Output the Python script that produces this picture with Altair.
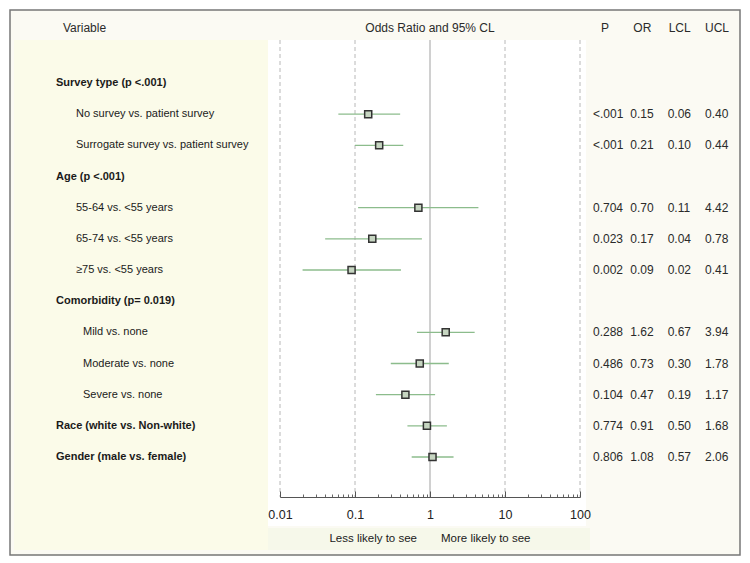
import altair as alt
import pandas as pd

# ---------------- data ----------------
labels = [
    "Survey type (p <.001)",
    "No survey vs. patient survey",
    "Surrogate survey vs. patient survey",
    "Age (p <.001)",
    "55-64 vs. <55 years",
    "65-74 vs. <55 years",
    "≥75 vs. <55 years",
    "Comorbidity (p= 0.019)",
    "Mild vs. none",
    "Moderate vs. none",
    "Severe vs. none",
    "Race (white vs. Non-white)",
    "Gender (male vs. female)",
]
levels = [0, 1, 1, 0, 1, 1, 1, 0, 2, 2, 2, 0, 0]
p_values = [None, "<.001", "<.001", None, "0.704", "0.023", "0.002", None,
            "0.288", "0.486", "0.104", "0.774", "0.806"]
odds_ratio = [None, 0.15, 0.21, None, 0.70, 0.17, 0.09, None, 1.62, 0.73, 0.47, 0.91, 1.08]
lower_cl = [None, 0.06, 0.10, None, 0.11, 0.04, 0.02, None, 0.67, 0.30, 0.19, 0.50, 0.57]
upper_cl = [None, 0.40, 0.44, None, 4.42, 0.78, 0.41, None, 3.94, 1.78, 1.17, 1.68, 2.06]
columns = ["P", "OR", "LCL", "UCL"]
major_ticks = [0.01, 0.1, 1, 10, 100]
minor_ticks = [k * 10.0 ** e for e in (-2, -1, 0, 1) for k in range(2, 10)]
ref_lines = [0.01, 0.1, 10, 100]
captions = ["Less likely to see", "More likely to see"]

FONT = "Liberation Sans"

df = pd.DataFrame({
    "row": list(range(len(labels))),
    "label": labels,
    "level": levels,
    "p": p_values,
    "odds": odds_ratio,
    "lcl": lower_cl,
    "ucl": upper_cl,
})
forest = df.dropna(subset=["odds"])

recs = []
for r, p, o, l, u in zip(df["row"], p_values, odds_ratio, lower_cl, upper_cl):
    if o is None:
        continue
    for c, t in zip(columns, [p, f"{o:.2f}", f"{l:.2f}", f"{u:.2f}"]):
        recs.append({"row": r, "col": c, "text": t})
table = pd.DataFrame(recs)

one = pd.DataFrame({"a": [0]})

# ---------------- scales ----------------
xlog = alt.Scale(type="log", domain=[0.01, 100], range=[270, 570], nice=False)
ys = alt.Scale(domain=[0, 12], range=[73, 447], nice=False, zero=False)
xlev = alt.Scale(domain=[0, 1, 2], range=[46, 66, 73], nice=False, zero=False)
xcol = alt.Scale(type="point", domain=columns, range=[583, 695], padding=0)

Y = alt.Y("row:Q", scale=ys, axis=None)


def panel(x1, x2, y1, y2, color):
    return alt.Chart(one).mark_rect(color=color).encode(
        x=alt.X(datum=x1, scale=xlog, axis=None),
        x2=alt.X2(datum=x2),
        y=alt.Y(datum=y1, scale=ys, axis=None),
        y2=alt.Y2(datum=y2),
    )


left_panel = panel(2.84e-6, 0.00692, -1.38, 14.98, "#fbfbe9")
white_panel = panel(0.00692, 120, -1.38, 14.21, "#ffffff")
band_panel = panel(0.00692, 136, 14.28, 14.98, "#f6f8ea")

grid = alt.Chart(pd.DataFrame({"v": ref_lines})).mark_rule(
    color="#b8b8b8", strokeDash=[4, 3], strokeWidth=1
).encode(
    x=alt.X("v:Q", scale=xlog, axis=alt.Axis(
        orient="top", values=minor_ticks, labels=False, ticks=True, tickSize=3,
        tickColor="#666", domain=False, grid=False, offset=-487, title=None, zindex=2)),
    y=alt.Y(datum=-1.38, scale=ys, axis=None),
    y2=alt.Y2(datum=13.28),
)

null_line = alt.Chart(pd.DataFrame({"v": [1]})).mark_rule(
    color="#c0c0c0", strokeWidth=1.5
).encode(
    x=alt.X("v:Q", scale=xlog, axis=None),
    y=alt.Y(datum=-1.38, scale=ys, axis=None),
    y2=alt.Y2(datum=13.28),
)

ci = alt.Chart(forest).mark_rule(color="#8cbc8c", strokeWidth=1.3).encode(
    x=alt.X("lcl:Q", scale=xlog, axis=alt.Axis(
        orient="bottom", values=major_ticks, format="~g", ticks=False, domain=False,
        grid=False, offset=-58, labelPadding=11, labelFontSize=12.5, labelFont=FONT,
        labelColor="#222", labelFlush=False, labelOverlap=False, title=None, zindex=2)),
    x2="ucl:Q",
    y=Y,
)

squares = alt.Chart(forest).mark_square(
    size=50, fill="#c6d5c1", stroke="#333333", strokeWidth=1.5, opacity=1
).encode(
    x=alt.X("odds:Q", scale=xlog, axis=alt.Axis(
        orient="top", values=major_ticks, labels=False, ticks=True, tickSize=6,
        tickColor="#555", domain=True, domainColor="#555", grid=False,
        offset=-487, title=None, zindex=2)),
    y=Y,
)

group_text = alt.Chart(df).transform_filter("datum.level == 0").mark_text(
    align="left", baseline="middle", font=FONT, fontSize=11, fontWeight="bold", color="#1a1a1a"
).encode(x=alt.X("level:Q", scale=xlev, axis=None), y=Y, text="label:N")

item_text = alt.Chart(df).transform_filter("datum.level >= 1").mark_text(
    align="left", baseline="middle", font=FONT, fontSize=11, color="#1a1a1a"
).encode(x=alt.X("level:Q", scale=xlev, axis=None), y=Y, text="label:N")

table_text = alt.Chart(table).mark_text(
    align="left", baseline="middle", font=FONT, fontSize=12, color="#2a2a2a"
).encode(x=alt.X("col:N", scale=xcol, axis=None), y=Y, text="text:N")

col_head = alt.Chart(pd.DataFrame({"col": columns})).mark_text(
    align="center", baseline="middle", dx=12, font=FONT, fontSize=12, color="#2a2a2a"
).encode(x=alt.X("col:N", scale=xcol, axis=None), y=alt.value(18), text="col:N")

var_head = alt.Chart(pd.DataFrame({"t": ["Variable"]})).mark_text(
    align="left", baseline="middle", dx=7, font=FONT, fontSize=12, color="#2a2a2a"
).encode(x=alt.X(datum=0, scale=xlev, axis=None), y=alt.value(18), text="t:N")

or_head = alt.Chart(pd.DataFrame({"t": ["Odds Ratio and 95% CL"]})).mark_text(
    align="center", baseline="middle", font=FONT, fontSize=12, color="#2a2a2a"
).encode(x=alt.X(datum=1, scale=xlog, axis=None), y=alt.value(18), text="t:N")

cap_less = alt.Chart(pd.DataFrame({"t": [captions[0]]})).mark_text(
    align="right", baseline="middle", dx=-13, font=FONT, fontSize=11.5, color="#1a1a1a"
).encode(x=alt.X(datum=1, scale=xlog, axis=None),
         y=alt.Y(datum=14.63, scale=ys, axis=None), text="t:N")

cap_more = alt.Chart(pd.DataFrame({"t": [captions[1]]})).mark_text(
    align="left", baseline="middle", dx=11, font=FONT, fontSize=11.5, color="#1a1a1a"
).encode(x=alt.X(datum=1, scale=xlog, axis=None),
         y=alt.Y(datum=14.63, scale=ys, axis=None), text="t:N")

chart = alt.layer(
    left_panel, white_panel, band_panel, grid, null_line, ci, squares,
    group_text, item_text, table_text, col_head, var_head, or_head, cap_less, cap_more,
).resolve_scale(x="independent").resolve_axis(x="independent").properties(
    width=730,
    height=545,
    padding={"left": 2, "right": 2, "top": 2, "bottom": 2},
    autosize=alt.AutoSizeParams(type="none"),
    background="white",
).configure_view(stroke="#777777", strokeWidth=1.5, fill="#fbfaf3")

chart.save("out.html", embed_options={"renderer": "svg", "actions": False})
